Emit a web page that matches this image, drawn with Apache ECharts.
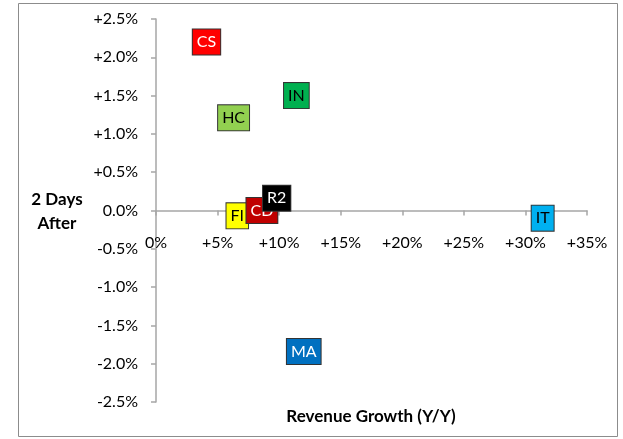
<!DOCTYPE HTML>
<html>
  <head>
    <title>Revenue Growth vs 2 Days After</title>
    <meta charset="UTF-8" />
    <script src="https://cdn.jsdelivr.net/npm/echarts@6/dist/echarts.min.js"></script>
    <style>
      body { margin: 0; background: #fff; }
      #chart { width: 623px; height: 439px; }
    </style>
  </head>
  <body>
    <div id="chart"></div>
  <script>
    // sectors, revenue growth (x, %) and 2-day move (y, %)
    var sectors = ['CS', 'HC', 'IN', 'FI', 'CD', 'R2', 'IT', 'MA'];
    var revenueGrowth = [4.1, 6.3, 11.4, 6.6, 8.6, 9.8, 31.4, 12.0];
    var twoDaysAfter = [2.2, 1.21, 1.5, -0.07, 0.0, 0.16, -0.1, -1.84];
    var boxColors = ['#FF0000', '#92D050', '#00B050', '#FFFF00', '#C00000', '#000000', '#00B0F0', '#0070C0'];
    var textColors = ['#fff', '#000', '#000', '#000', '#fff', '#fff', '#000', '#fff'];

    var font = 'Lato, "Open Sans", sans-serif';

    var points = sectors.map(function (s, i) {
      return {
        name: s,
        value: [revenueGrowth[i], twoDaysAfter[i]],
        label: { backgroundColor: boxColors[i], color: textColors[i] }
      };
    });

    var chart = echarts.init(document.getElementById('chart'), null, { renderer: 'canvas' });

    chart.setOption({
      animation: false,
      grid: { left: 156, right: 36, top: 19, bottom: 37 },
      xAxis: {
        type: 'value', min: 0, max: 35, interval: 5,
        position: 'bottom',
        // x axis sits on y = 0 (half way up the plot)
        offset: -191.5,
        axisLine: { onZero: false, lineStyle: { color: '#A6A6A6', width: 1.5 } },
        axisTick: { show: true, length: 5, lineStyle: { color: '#A6A6A6', width: 1.5 } },
        splitLine: { show: false },
        axisLabel: {
          color: '#000', fontFamily: font, fontSize: 16, margin: 24,
          formatter: function (v) { return v > 0 ? '+' + v + '%' : v + '%'; }
        }
      },
      yAxis: {
        type: 'value', min: -2.5, max: 2.5, interval: 0.5,
        axisLine: { show: true, onZero: false, lineStyle: { color: '#A6A6A6', width: 1.5 } },
        axisTick: { show: true, length: 5, lineStyle: { color: '#A6A6A6', width: 1.5 } },
        splitLine: { show: false },
        axisLabel: {
          color: '#000', fontFamily: font, fontSize: 16, margin: 18,
          formatter: function (v) { return (v > 0 ? '+' : '') + v.toFixed(1) + '%'; }
        }
      },
      series: [{
        type: 'scatter',
        symbolSize: 1,
        itemStyle: { color: 'rgba(0,0,0,0)', opacity: 1 },
        data: points,
        label: {
          show: true, position: 'inside', formatter: '{b}',
          fontFamily: font, fontSize: 16,
          borderColor: '#333', borderWidth: 1,
          padding: [5, 4, 4, 4]
        }
      }],
      graphic: [
        {
          type: 'rect', shape: { x: 18.5, y: 3.5, width: 599, height: 433 },
          style: { fill: 'none', stroke: '#8C8C8C', lineWidth: 1 }, silent: true
        },
        {
          type: 'text', x: 57, y: 212,
          style: {
            text: '2 Days\nAfter', fontFamily: font, fontWeight: 'bold', fontSize: 17,
            lineHeight: 24, fill: '#000', align: 'center', verticalAlign: 'middle'
          }
        },
        {
          type: 'text', x: 371, y: 417,
          style: {
            text: 'Revenue Growth (Y/Y)', fontFamily: font, fontWeight: 'bold', fontSize: 17,
            fill: '#000', align: 'center', verticalAlign: 'middle'
          }
        }
      ]
    });
  </script>
  </body>
</html>
